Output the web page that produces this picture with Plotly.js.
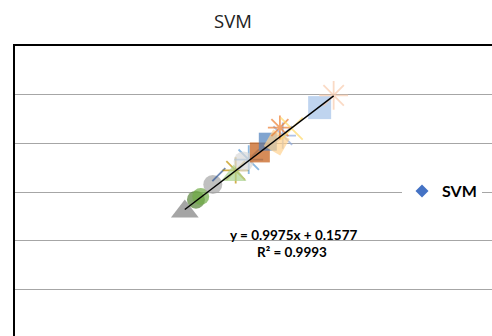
<!DOCTYPE html>
<html>
<head>
<meta charset="utf-8">
<script src="https://cdn.plot.ly/plotly-3.0.1.min.js"></script>
<style>html,body{margin:0;padding:0;background:#fff;}#chart{width:492px;height:336px;}</style>
</head>
<body>
<div id="chart"></div>
<script>
// Data
const seriesName = 'SVM';
const xVals = [5.14, 5.49, 5.64, 6.02, 6.21, 6.74, 6.68, 7.15, 6.99, 7.50, 7.75, 8.22, 8.03, 8.13, 8.50, 9.38, 9.82];
const yVals = [5.20, 5.69, 5.82, 6.31, 6.72, 6.89, 6.68, 7.33, 7.26, 7.63, 8.07, 8.32, 8.04, 8.65, 8.61, 9.47, 9.97];
const trendSlope = 0.9975;
const trendIntercept = 0.1577;
const rSquared = 0.9993;

// Styles (per point)
const symbols = ['triangle-up','circle','circle','circle','line-ne-open','asterisk-open','triangle-up','asterisk-open','circle','square','square','asterisk-open','square','asterisk-open','x-thin-open','square','asterisk-open'];
const colors  = ['#7f7f7f','#548235','#70ad47','#a5a5a5','#2f5597','#bf9000','#a9d18e','#5b9bd5','#d9d9d9','#c55a11','#4a7ebb','#8faadc','#ffd28f','#ed7d31','#ffd966','#a4c2e8','#f8cbad'];
const sizes   = [24,18,17,19,13,22,22,24,20,20,18,22,19,20,22,23,24];
const lineW   = symbols.map(s => s.endsWith('-open') ? 1.8 : 0);

const xmin = Math.min(...xVals), xmax = Math.max(...xVals);
const trendX = [xmin, xmax];
const trendY = trendX.map(v => trendSlope * v + trendIntercept);

const traces = [
  {
    x: xVals, y: yVals, type: 'scatter', mode: 'markers', showlegend: false,
    marker: {symbol: symbols, color: colors, size: sizes, angle: symbols.map((s,i)=> i===12 ? 30 : 0),
             line: {color: colors, width: lineW}}
  },
  {
    x: trendX, y: trendY, type: 'scatter', mode: 'lines', showlegend: false,
    line: {color: '#000000', width: 1.4}
  },
  {
    x: [null], y: [null], type: 'scatter', mode: 'markers', name: seriesName,
    marker: {symbol: 'diamond', color: '#4472c4', size: 10}
  }
];

const layout = {
  width: 492, height: 336,
  margin: {l: 15, r: 0, t: 46, b: 0},
  paper_bgcolor: '#ffffff', plot_bgcolor: '#ffffff',
  title: {text: seriesName, x: 233/492, xanchor: 'center', y: 1 - 22/336, yanchor: 'middle',
          font: {family: 'Open Sans', size: 18.5, color: '#222'}},
  xaxis: {range: [-0.2, 14.8], showgrid: false, zeroline: false, showticklabels: false,
          side: 'top', showline: true, linecolor: '#000', linewidth: 2, ticks: ''},
  yaxis: {range: [0.09, 12], tick0: 0, dtick: 2, showgrid: true, gridcolor: '#a6a6a6', gridwidth: 1,
          zeroline: false, showticklabels: false, showline: true, linecolor: '#000', linewidth: 2, ticks: ''},
  showlegend: true,
  legend: {x: (402-15)/477, y: (336-191)/290, xanchor: 'left', yanchor: 'middle', bgcolor: '#ffffff',
           borderwidth: 0, itemwidth: 30, font: {family: 'Lato', size: 16, color: '#000', weight: 'bold'}},
  annotations: [
    {xref: 'paper', yref: 'paper', x: (293-15)/477, y: (336-235)/290, xanchor: 'center', yanchor: 'middle',
     showarrow: false, text: '<b>y = ' + trendSlope + 'x + ' + trendIntercept + '</b>',
     font: {family: 'Lato', size: 13.5, color: '#000'}},
    {xref: 'paper', yref: 'paper', x: (292-15)/477, y: (336-252)/290, xanchor: 'center', yanchor: 'middle',
     showarrow: false, text: '<b>R² = ' + rSquared + '</b>',
     font: {family: 'Lato', size: 13.5, color: '#000'}}
  ]
};

Plotly.newPlot('chart', traces, layout, {displayModeBar: false, staticPlot: true});
</script>
</body>
</html>
